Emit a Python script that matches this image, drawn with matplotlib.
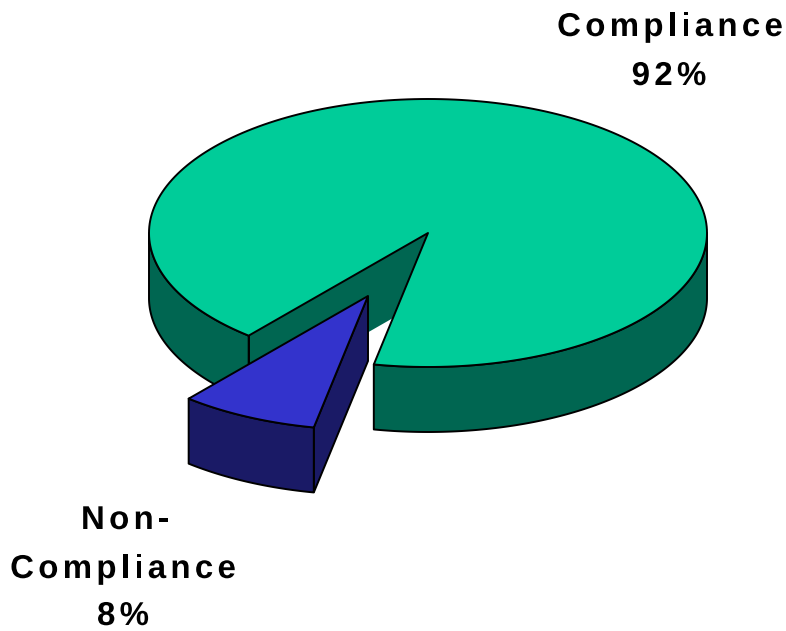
import numpy as np
import matplotlib
matplotlib.use("Agg")
import matplotlib.pyplot as plt
from matplotlib.colors import to_rgba
from matplotlib.patches import Polygon
from matplotlib.text import Text
from matplotlib.textpath import TextPath
from matplotlib.transforms import Affine2D, Bbox

# Data
slice_names = ["Compliance", "Non-Compliance"]
slice_values = [92, 8]
label_lines = [["Compliance", "92%"], ["Non-", "Compliance", "8%"]]

# Style / layout (pixel space of the reference)
W, H = 786, 631
CX, CY, RX, RY, DEPTH = 428, 233, 279, 134, 65
EXPLODE = (-60, 63)
START_DEG = 11.2
TOP = ["#00CC99", "#3333CC"]
SIDE = ["#006651", "#1A1A66"]
LW = 1.4
FONT_PX = 33
STRETCH = 1.0
TRACKING_PX = 4.3


class SpacedText(Text):
    """Real text drawn with horizontal stretch and letter spacing."""

    def _glyphs(self):
        prop = self.get_fontproperties()
        out, px = [], 0.0
        base = TextPath((0, 0), "||", size=FONT_PX, prop=prop).get_extents().width
        for c in self.get_text():
            tp = TextPath((0, 0), c, size=FONT_PX, prop=prop)
            w = TextPath((0, 0), "|" + c + "|", size=FONT_PX, prop=prop).get_extents().width - base
            out.append((tp, px))
            px += w * STRETCH + TRACKING_PX
        return out, px - TRACKING_PX

    def _origin(self):
        x, y = self.get_transform().transform(self.get_position())
        return x, y

    def get_window_extent(self, renderer=None, dpi=None):
        glyphs, total = self._glyphs()
        x, y = self._origin()
        return Bbox.from_bounds(x - total / 2, y, total, FONT_PX * 0.72)

    def draw(self, renderer):
        glyphs, total = self._glyphs()
        x, y = self._origin()
        gc = renderer.new_gc()
        gc.set_antialiased(True)
        gc.set_linewidth(0)
        rgba = to_rgba(self.get_color())
        for tp, px in glyphs:
            tr = Affine2D().scale(STRETCH, 1).translate(x - total / 2 + px, y)
            renderer.draw_path(gc, tp, tr, rgbFace=rgba)
        gc.restore()


def rim(t0, t1, ox=0, oy=0, dz=0):
    t = np.radians(np.linspace(t0, t1, 240))
    return np.c_[CX + ox - RX * np.sin(t), CY + oy + dz + RY * np.cos(t)]


z = [1]


def add(ax, patch):
    patch.set_zorder(z[0])
    z[0] += 1
    ax.add_patch(patch)


def wall(ax, t0, t1, color, ox=0, oy=0):
    top = rim(t0, t1, ox, oy)
    bot = rim(t0, t1, ox, oy, DEPTH)[::-1]
    add(ax, Polygon(np.r_[top, bot], closed=True, fc=color, ec="black", lw=LW, joinstyle="round"))


fig = plt.figure(figsize=(W / 100, H / 100), dpi=100)
ax = fig.add_axes([0, 0, 1, 1])
ax.set_xlim(0, W)
ax.set_ylim(H, 0)
ax.axis("off")

deg = [v / sum(slice_values) * 360 for v in slice_values]
b0, b1 = START_DEG, START_DEG + deg[1]   # small slice
g0, g1 = b1, b1 + deg[0]                 # large slice

# Large slice: walls, cut face, top
wall(ax, g0, 90, SIDE[0])
wall(ax, 270, g1, SIDE[0])
edge = rim(g0, g0)[0]
add(ax, Polygon([(CX, CY), edge, edge + (0, DEPTH), (CX, CY + DEPTH)], closed=True, fc=SIDE[0], ec="none"))
ax.plot([edge[0], edge[0]], [edge[1], edge[1] + DEPTH], color="black", lw=LW, zorder=z[0])
z[0] += 1
add(ax, Polygon(np.r_[[(CX, CY)], rim(g0, g1)], closed=True, fc=TOP[0], ec="black", lw=LW, joinstyle="round"))

# Exploded small slice: right cut face, wall, top
ox, oy = EXPLODE
apex = np.array([CX + ox, CY + oy])
p = rim(b0, b0, ox, oy)[0]
add(ax, Polygon([apex, p, p + (0, DEPTH), apex + (0, DEPTH)], closed=True, fc=SIDE[1], ec="black", lw=LW))
wall(ax, b0, b1, SIDE[1], ox, oy)
add(ax, Polygon(np.r_[[apex], rim(b0, b1, ox, oy)], closed=True, fc=TOP[1], ec="black", lw=LW, joinstyle="round"))

# Labels
positions = [[(670, 36), (669, 85)], [(125, 529), (123, 578), (123, 625)]]
for lines, pos in zip(label_lines, positions):
    for txt, (x, y) in zip(lines, pos):
        t = SpacedText(x, y, txt, family="Liberation Sans", fontweight="bold", fontsize=FONT_PX * 0.72,
                       ha="center", va="baseline", color="black", transform=ax.transData)
        t.set_zorder(z[0])
        ax.add_artist(t)

fig.savefig("out.png", dpi=100)
